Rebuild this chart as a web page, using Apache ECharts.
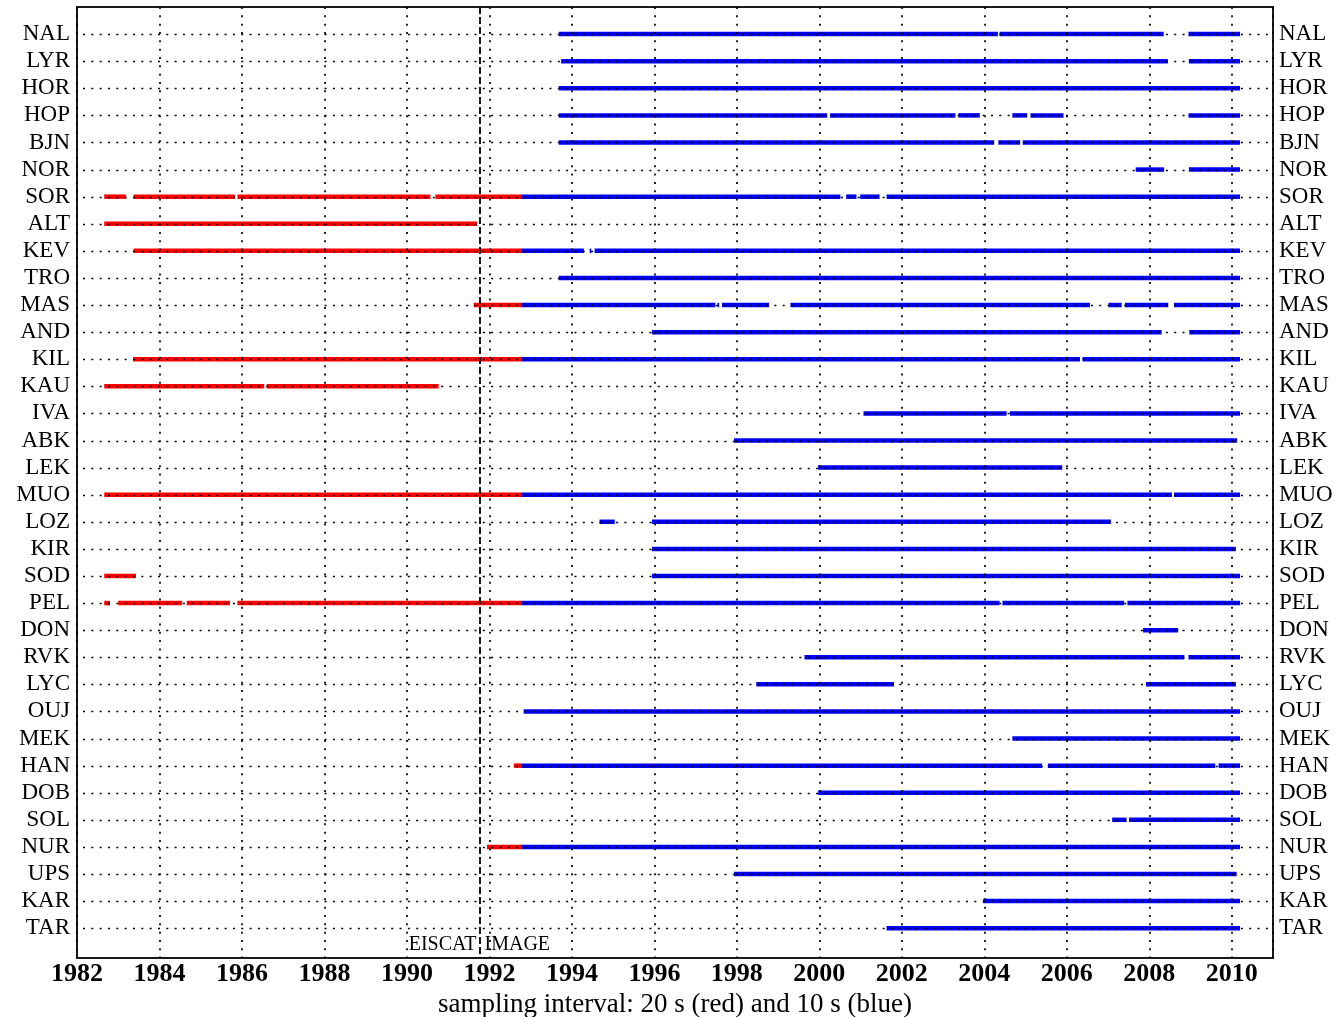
<!DOCTYPE html>
<html>
<head>
<meta charset="utf-8">
<title>Magnetometer station data coverage</title>
<script src="https://cdn.jsdelivr.net/npm/echarts@6/dist/echarts.min.js"></script>
<style>
  html, body { margin: 0; padding: 0; background: #ffffff; }
  #chart { width: 1337px; height: 1017px; }
</style>
</head>
<body>
<div id="chart"></div>
<script>
// Stations, listed from top to bottom
const stations = [
  'NAL', 'LYR', 'HOR', 'HOP', 'BJN', 'NOR', 'SOR', 'ALT', 'KEV', 'TRO',
  'MAS', 'AND', 'KIL', 'KAU', 'IVA', 'ABK', 'LEK', 'MUO', 'LOZ', 'KIR',
  'SOD', 'PEL', 'DON', 'RVK', 'LYC', 'OUJ', 'MEK', 'HAN', 'DOB', 'SOL',
  'NUR', 'UPS', 'KAR', 'TAR'
];

// Years shown on the time axis
const yearTicks = [1982, 1984, 1986, 1988, 1990, 1992, 1994, 1996, 1998, 2000, 2002, 2004, 2006, 2008, 2010];

// Change-over between the two networks
const eraBoundary = 1991.76;
const eraNames = ['EISCAT', 'IMAGE'];

// Periods with 20 s sampling: [station, start, end] in decimal years
const redSpans = [
  ['SOR', 1982.66, 1983.19], ['SOR', 1983.37, 1985.83], ['SOR', 1985.89, 1990.57], ['SOR', 1990.69, 1992.77],
  ['ALT', 1982.66, 1991.70],
  ['KEV', 1983.37, 1992.77],
  ['MAS', 1991.62, 1992.77],
  ['KIL', 1983.36, 1992.77],
  ['KAU', 1982.66, 1986.54], ['KAU', 1986.60, 1990.77],
  ['MUO', 1982.66, 1992.77],
  ['SOD', 1982.66, 1983.43],
  ['PEL', 1982.66, 1982.80], ['PEL', 1983.00, 1984.55], ['PEL', 1984.66, 1985.71], ['PEL', 1985.89, 1992.77],
  ['HAN', 1992.59, 1992.77],
  ['NUR', 1991.94, 1992.77]
];

// Periods with 10 s sampling: [station, start, end] in decimal years
const blueSpans = [
  ['NAL', 1993.68, 2004.33], ['NAL', 2004.37, 2008.35], ['NAL', 2008.95, 2010.20],
  ['LYR', 1993.74, 2008.45], ['LYR', 2008.96, 2010.20],
  ['HOR', 1993.68, 2010.20],
  ['HOP', 1993.68, 2000.19], ['HOP', 2000.26, 2003.30], ['HOP', 2003.37, 2003.89], ['HOP', 2004.68, 2005.04],
  ['HOP', 2005.12, 2005.92], ['HOP', 2008.95, 2010.20],
  ['BJN', 1993.68, 2004.24], ['BJN', 2004.34, 2004.87], ['BJN', 2004.93, 2010.20],
  ['NOR', 2007.67, 2008.36], ['NOR', 2008.96, 2010.20],
  ['SOR', 1992.77, 2000.51], ['SOR', 2000.65, 2000.90], ['SOR', 2000.99, 2001.46], ['SOR', 2001.63, 2010.20],
  ['KEV', 1992.77, 1994.29], ['KEV', 1994.43, 1994.47], ['KEV', 1994.55, 2010.20],
  ['TRO', 1993.68, 2010.20],
  ['MAS', 1992.77, 1997.48], ['MAS', 1997.53, 1997.57], ['MAS', 1997.64, 1998.78], ['MAS', 1999.30, 2006.56],
  ['MAS', 2007.01, 2007.33], ['MAS', 2007.41, 2008.46], ['MAS', 2008.60, 2010.20],
  ['AND', 1995.94, 2008.30], ['AND', 2008.97, 2010.20],
  ['KIL', 1992.77, 2006.32], ['KIL', 2006.38, 2010.20],
  ['IVA', 2001.07, 2004.54], ['IVA', 2004.62, 2010.20],
  ['ABK', 1997.93, 2010.13],
  ['LEK', 1999.97, 2005.89],
  ['MUO', 1992.77, 2008.55], ['MUO', 2008.60, 2010.20],
  ['LOZ', 1994.67, 1995.04], ['LOZ', 1995.94, 2007.07],
  ['KIR', 1995.94, 2010.10],
  ['SOD', 1995.94, 2010.20],
  ['PEL', 1992.77, 2004.37], ['PEL', 2004.44, 2007.39], ['PEL', 2007.47, 2010.20],
  ['DON', 2007.85, 2008.70],
  ['RVK', 1999.64, 2008.85], ['RVK', 2008.95, 2010.20],
  ['LYC', 1998.47, 2001.81], ['LYC', 2007.92, 2010.10],
  ['OUJ', 1992.83, 2010.20],
  ['MEK', 2004.68, 2010.20],
  ['HAN', 1992.77, 2005.40], ['HAN', 2005.54, 2009.60], ['HAN', 2009.68, 2010.20],
  ['DOB', 1999.97, 2010.20],
  ['SOL', 2007.10, 2007.45], ['SOL', 2007.51, 2010.20],
  ['NUR', 1992.77, 2010.20],
  ['UPS', 1997.93, 2010.12],
  ['KAR', 2003.97, 2010.20],
  ['TAR', 2001.63, 2010.20]
];

const SERIF = '"Liberation Serif", "Times New Roman", serif';
const DOTS = [2, 6.33];

function toRows(spans) {
  return spans.map(s => [s[1], s[2], stations.indexOf(s[0])]);
}

// A coverage period: thin horizontal bar on its station row
function renderSpan(params, api) {
  const row = api.value(2);
  const a = api.coord([api.value(0), row]);
  const b = api.coord([api.value(1), row]);
  const h = 4.5;
  return {
    type: 'rect',
    shape: { x: a[0], y: a[1] - h / 2, width: Math.max(b[0] - a[0], 1.5), height: h },
    style: { fill: api.visual('color') }
  };
}

// Dotted guide line across the frame for each station
function renderRow(params, api) {
  const cs = params.coordSys;
  const y = Math.round(api.coord([yearTicks[0], api.value(0)])[1]) + 0.5;
  return {
    type: 'line',
    shape: { x1: cs.x + 6, y1: y, x2: cs.x + cs.width, y2: y },
    style: { stroke: '#000', lineWidth: 1.7, lineDash: DOTS }
  };
}

// Network names either side of the change-over line
function renderEras(params, api) {
  const p = api.coord([api.value(0), api.value(1)]);
  return {
    type: 'group',
    children: [
      { type: 'text', x: p[0] - 3, y: p[1],
        style: { text: eraNames[0], font: '20px ' + SERIF, fill: '#000', align: 'right', verticalAlign: 'middle' } },
      { type: 'text', x: p[0] + 5, y: p[1],
        style: { text: eraNames[1], font: '20px ' + SERIF, fill: '#000', align: 'left', verticalAlign: 'middle' } }
    ]
  };
}

function stationLabel(v) {
  return (Number.isInteger(v) && v >= 0 && v < stations.length) ? stations[v] : '';
}

function yAxisFor(position, margin) {
  return {
    type: 'value',
    position: position,
    inverse: true,
    min: -1,
    max: 34.1,
    interval: 1,
    axisLine: { show: false },
    axisTick: { show: false },
    splitLine: { show: false },
    axisLabel: {
      margin: margin,
      color: '#000',
      fontFamily: SERIF,
      fontSize: 23,
      showMinLabel: false,
      showMaxLabel: false,
      formatter: stationLabel
    }
  };
}

const chart = echarts.init(document.getElementById('chart'), null, { renderer: 'canvas' });

chart.setOption({
  backgroundColor: '#ffffff',
  animation: false,
  grid: {
    left: 77, right: 64, top: 7, bottom: 59,
    containLabel: false,
    outerBoundsMode: 'none',
    show: true, borderColor: '#1a1a1a', borderWidth: 2, backgroundColor: '#ffffff'
  },
  xAxis: {
    type: 'value',
    min: yearTicks[0],
    max: 2011,
    interval: 2,
    z: 3,
    name: 'sampling interval: 20 s (red) and 10 s (blue)',
    nameLocation: 'middle',
    nameGap: 24,
    nameTextStyle: { color: '#000', fontFamily: SERIF, fontSize: 27 },
    axisLine: { show: false },
    axisTick: { show: false },
    splitLine: { show: true, lineStyle: { color: '#000', width: 1.7, type: DOTS } },
    axisLabel: {
      margin: 3,
      color: '#000',
      fontFamily: SERIF,
      fontWeight: 'bold',
      fontSize: 26,
      formatter: v => (yearTicks.indexOf(v) >= 0 ? String(v) : '')
    }
  },
  yAxis: [yAxisFor('left', 7), yAxisFor('right', 6)],
  series: [
    {
      name: '20 s', type: 'custom', renderItem: renderSpan, z: 2,
      itemStyle: { color: '#ff0000' },
      encode: { x: [0, 1], y: 2 },
      data: toRows(redSpans)
    },
    {
      name: '10 s', type: 'custom', renderItem: renderSpan, z: 2,
      itemStyle: { color: '#0000f4' },
      encode: { x: [0, 1], y: 2 },
      data: toRows(blueSpans)
    },
    {
      name: 'rows', type: 'custom', renderItem: renderRow, z: 4, silent: true,
      encode: { y: 0 },
      data: stations.map((s, i) => [i]),
      markLine: {
        silent: true,
        symbol: ['none', 'none'],
        label: { show: false },
        lineStyle: { color: '#000', width: 1.8, type: [7, 3] },
        data: [{ xAxis: eraBoundary }]
      }
    },
    {
      name: 'eras', type: 'custom', renderItem: renderEras, z: 4, silent: true,
      encode: { x: 0, y: 1 },
      data: [[eraBoundary, 33.62]]
    }
  ]
});
</script>
</body>
</html>
